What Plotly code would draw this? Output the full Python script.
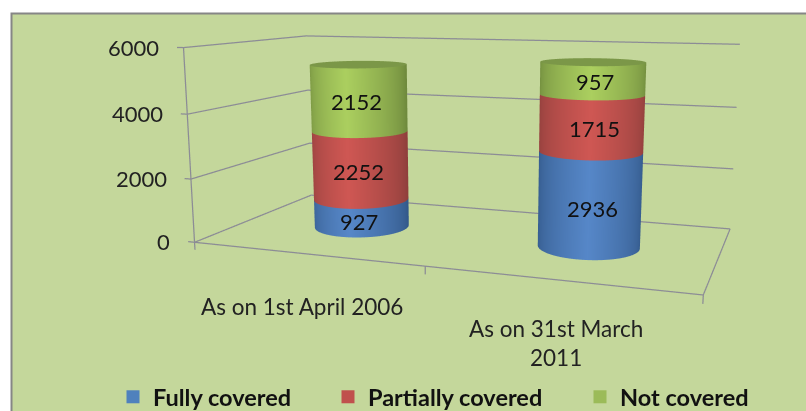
import numpy as np
import plotly.graph_objects as go

categories = ["As on 1st April 2006", "As on 31st March<br>2011"]
series = ["Fully covered", "Partially covered", "Not covered"]
fully = [927, 2936]
partial = [2252, 1715]
notcov = [2152, 957]
z_ticks = [0, 2000, 4000, 6000]

# The scene is larger than the window: plotly's field of view is fixed, and the
# reference has a weaker perspective. The page is shifted so its centre matches.
Wf, Hf, top = 942, 806, 225
XR, YR, ZR = (-0.1, 2.1), (-0.2, 1.1), (-300, 6200)
ax, ay, az = 1.5, 0.846, 0.5727
eye = (0.9034, -2.4597, 0.4273)
center = (0.0201, -0.0108, -0.0861)

def px(x): return x / Wf
def py(y): return 1 - (y + top) / Hf

colors = {"Fully covered": ("#33598a", "#5687c8", "#4f81bd"),
          "Partially covered": ("#8f3f3c", "#cf5753", "#c0504d"),
          "Not covered": ("#6f8a3d", "#abcf5f", "#9bbb59")}

fig = go.Figure()
lx, ly, lz = [], [], []
def seg(a, b):
    lx.extend([a[0], b[0], None]); ly.extend([a[1], b[1], None]); lz.extend([a[2], b[2], None])
for z in z_ticks:
    seg((0, 0, z), (0, 1, z)); seg((0, 1, z), (2, 1, z)); seg((-0.03, 0, z), (0, 0, z))
seg((0, 0, 0), (0, 0, 6000)); seg((0, 0, 0), (2, 0, 0)); seg((2, 0, 0), (2, 1, 0))
for x in (0, 1, 2):
    seg((x, 0, 0), (x, 0, -240))
fig.add_trace(go.Scatter3d(x=lx, y=ly, z=lz, mode="lines", line=dict(color="#8c8c96", width=2.5),
                           showlegend=False, hoverinfo="skip"))

rx = 0.2
ry = rx * ax / (XR[1] - XR[0]) * (YR[1] - YR[0]) / ay
theta = np.linspace(0, 2 * np.pi, 121)
view = np.arctan2(eye[1] / ay, eye[0] / ax)
dth = np.abs((theta - view + np.pi) % (2 * np.pi) - np.pi)
shade = np.clip(1 - dth / (np.pi / 2), 0, 1)
annots = []
flat = dict(ambient=1, diffuse=0, specular=0, fresnel=0, roughness=1)
for i, (cx, lab_shift) in enumerate(((0.51, 10), (1.5, 4))):
    base = 0
    for name, vals in zip(series, (fully, partial, notcov)):
        v = vals[i]
        X = np.vstack([cx + rx * np.cos(theta)] * 2)
        Y = np.vstack([0.5 + ry * np.sin(theta)] * 2)
        ZZ = np.vstack([np.full_like(theta, base), np.full_like(theta, base + v)])
        dark, light, _ = colors[name]
        fig.add_trace(go.Surface(x=X, y=Y, z=ZZ, surfacecolor=np.vstack([shade, shade]), cmin=0, cmax=1,
                                 colorscale=[[0, dark], [1, light]], showscale=False, hoverinfo="skip", lighting=flat))
        annots.append(dict(x=cx + rx * np.cos(view), y=0.5 + ry * np.sin(view), z=base + v / 2, text=str(v),
                           showarrow=False, xshift=lab_shift, yshift=2,
                           font=dict(family="Lato", size=22, color="#111111")))
        base += v
    rad = np.array([0, 1.0])
    X = cx + rx * np.outer(rad, np.cos(theta))
    Y = 0.5 + ry * np.outer(rad, np.sin(theta))
    fig.add_trace(go.Surface(x=X, y=Y, z=np.full_like(X, base), surfacecolor=np.zeros_like(X), cmin=0, cmax=1,
                             colorscale=[[0, "#7b9748"], [1, "#7b9748"]], showscale=False, hoverinfo="skip", lighting=flat))
for z in z_ticks:
    annots.append(dict(x=-0.03, y=0, z=z, text=str(z), showarrow=False, xanchor="right", xshift=-16,
                       font=dict(family="Lato", size=22, color="#222222")))

legends = {}
for j, (name, left) in enumerate(zip(series, (113, 328, 580))):
    key = "legend" if j == 0 else f"legend{j+1}"
    fig.add_trace(go.Scatter3d(x=[None], y=[None], z=[None], mode="markers", name=name, legend=key,
                               marker=dict(symbol="square", size=13, color=colors[name][2]), hoverinfo="skip"))
    legends[key] = dict(x=px(left), y=py(397), xanchor="left", yanchor="middle", bgcolor="rgba(0,0,0,0)",
                        font=dict(family="Lato", size=23.5, color="#111111", weight="bold"))

fig.update_layout(
    width=Wf, height=Hf, margin=dict(l=0, r=0, t=0, b=0), paper_bgcolor="#ffffff",
    scene=dict(xaxis=dict(visible=False, range=XR), yaxis=dict(visible=False, range=YR), zaxis=dict(visible=False, range=ZR),
               aspectmode="manual", aspectratio=dict(x=ax, y=ay, z=az),
               camera=dict(eye=dict(x=eye[0], y=eye[1], z=eye[2]), center=dict(x=center[0], y=center[1], z=center[2]),
                           up=dict(x=0, y=0, z=1)),
               domain=dict(x=[0, 1], y=[0, 1]), annotations=annots),
    shapes=[dict(type="rect", xref="paper", yref="paper", x0=px(11.5), x1=px(Wf + 20), y0=py(13.5), y1=py(430),
                 fillcolor="#c4d79b", line=dict(color="#868686", width=2), layer="below")],
    annotations=[dict(xref="paper", yref="paper", x=px(302), y=py(306), text=categories[0], showarrow=False,
                      xanchor="center", yanchor="middle", font=dict(family="Lato", size=22.5, color="#222222")),
                 dict(xref="paper", yref="paper", x=px(556), y=py(343), text=categories[1], showarrow=False,
                      xanchor="center", yanchor="middle", font=dict(family="Lato", size=22.5, color="#222222"))],
    **legends,
)
fig.write_html("out.html", config=dict(displayModeBar=False),
               post_script="document.body.style.margin='-%dpx 0 0 0';document.body.style.overflow='hidden';document.documentElement.style.overflow='hidden';" % top)
